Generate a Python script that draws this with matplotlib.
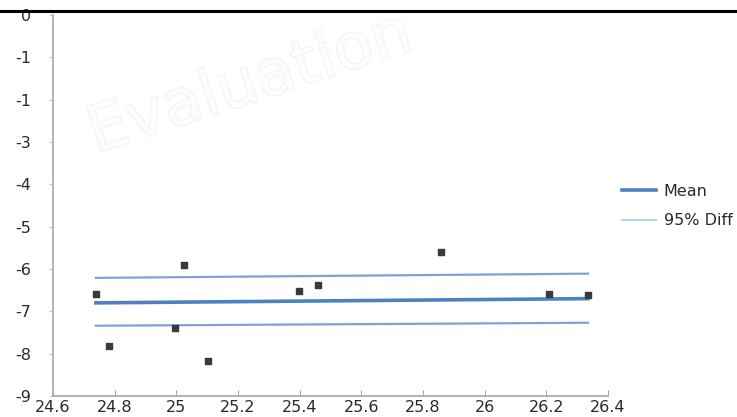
import matplotlib
matplotlib.use("Agg")
import matplotlib.pyplot as plt
import matplotlib.patheffects as pe
from matplotlib.lines import Line2D

# Average of the two measurements (x) and their difference (y)
avg_values = [24.739, 24.781, 24.995, 25.024, 25.102, 25.399, 25.458, 25.859, 26.208, 26.335]
diff_values = [-6.58, -7.82, -7.39, -5.90, -8.17, -6.51, -6.37, -5.59, -6.58, -6.61]

# Reference lines, given at the first and last average value
mean_line = [-6.80, -6.70]
upper_line = [-6.21, -6.11]
lower_line = [-7.34, -7.27]

x_ticks = [24.6, 24.8, 25.0, 25.2, 25.4, 25.6, 25.8, 26.0, 26.2, 26.4]
x_tick_labels = ["24.6", "24.8", "25", "25.2", "25.4", "25.6", "25.8", "26", "26.2", "26.4"]
y_ticks = [0, -1, -2, -3, -4, -5, -6, -7, -8, -9]
y_tick_labels = ["0", "-1", "-1", "-3", "-4", "-5", "-6", "-7", "-8", "-9"]

W, H = 737, 417
fig = plt.figure(figsize=(W / 100, H / 100), dpi=100)
fig.patch.set_facecolor("white")
ax = fig.add_axes([53 / W, 1 - 396 / H, (608 - 53) / W, (396 - 15) / H])
ax.set_facecolor("white")

# Faint watermark
fig.text(250 / W, 1 - 84 / H, "Evaluation", fontsize=46, rotation=18,
         ha="center", va="center", color="#fdfdfd", zorder=0,
         path_effects=[pe.withStroke(linewidth=1.4, foreground="#f1f1f1")])

line_x = [min(avg_values), max(avg_values)]
line_color = "#7fa3d3"
ax.plot(line_x, upper_line, color=line_color, lw=1.6, zorder=2)
ax.plot(line_x, lower_line, color=line_color, lw=1.6, zorder=2)
ax.plot(line_x, mean_line, color="#4f81bd", lw=2.6, zorder=2)
ax.scatter(avg_values, diff_values, marker="s", s=13, color="#3a3a3a", zorder=3)

ax.set_xlim(24.6, 26.4)
ax.set_ylim(-9, 0)
ax.set_xticks(x_ticks)
ax.set_xticklabels(x_tick_labels)
ax.set_yticks(y_ticks)
ax.set_yticklabels(y_tick_labels)

for side in ("top", "right"):
    ax.spines[side].set_visible(False)
for side in ("left", "bottom"):
    ax.spines[side].set_color("#a8a8a8")
    ax.spines[side].set_linewidth(1.2)

ax.tick_params(axis="x", direction="in", length=4, color="#a8a8a8",
               labelsize=11.5, labelcolor="#2a2a2a", pad=3)
ax.tick_params(axis="y", direction="out", length=3, color="#c8c8c8",
               labelsize=11.5, labelcolor="#2a2a2a", pad=13)

# Legend
handles = [Line2D([], [], color="#4f81bd", lw=2.6),
           Line2D([], [], color="#b9cfe9", lw=1.4)]
fig.legend(handles, ["Mean", "95% Diff"], loc="upper left",
           bbox_to_anchor=(614 / W, 1 - 176 / H), frameon=False,
           fontsize=11.5, handlelength=2.1, handletextpad=0.5,
           labelspacing=0.9, borderpad=0, labelcolor="#2a2a2a")

# Rule across the top
fig.add_artist(Line2D([0, 1], [1 - 10.5 / H, 1 - 10.5 / H],
                      transform=fig.transFigure, color="black", lw=2.2))

fig.savefig("out.png", dpi=100, facecolor="white")
